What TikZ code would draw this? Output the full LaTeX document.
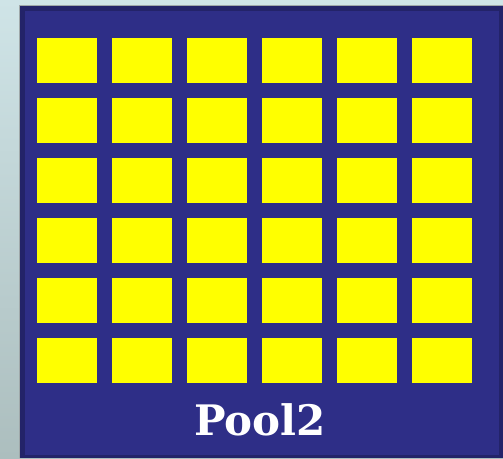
\documentclass[tikz,border=0pt]{standalone}
\usepackage{fontspec}
\newfontfamily\poolfont{DejaVu Serif}
\definecolor{bgtop}{RGB}{207,228,231}
\definecolor{bgbot}{RGB}{172,190,190}
\definecolor{boxborder}{RGB}{35,35,105}
\definecolor{boxfill}{RGB}{46,46,135}
\definecolor{cellyellow}{RGB}{255,255,0}
\begin{document}
\begin{tikzpicture}[x=1pt,y=-1pt,
  cell/.style={fill=cellyellow,draw=none},
  label/.style={font=\poolfont\bfseries\fontsize{42}{42}\selectfont,text=white,anchor=base,inner sep=0pt}]
\useasboundingbox (0,0) rectangle (503,458);
\shade[top color=bgtop,bottom color=bgbot] (0,0) rectangle (503,458);
\fill[gray!60!bgtop] (19,4.5) rectangle (503,458);
\fill[boxborder] (20,5.5) rectangle (503,458);
\fill[boxfill] (25,10.5) rectangle (499,455);
\foreach \c in {0,...,5}{
  \foreach \r in {0,...,5}{
    \fill[cell] (37+75*\c,38+60*\r) rectangle ++(60,45);
  }
}
\node[label] (pool) at (260,435) {Pool2};
\end{tikzpicture}
\end{document}
